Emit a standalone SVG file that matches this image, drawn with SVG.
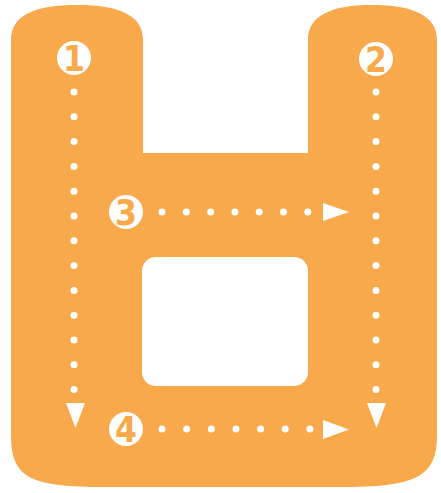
<svg xmlns="http://www.w3.org/2000/svg" width="441" height="493" viewBox="0 0 441 493">
  <style>
    .shape { fill: #F8A94C; }
    .hole { fill: #FFFFFF; }
    .badge circle { fill: #FFFFFF; }
    .badge text { fill: #F8A94C; font-family: "DejaVu Sans Condensed", "DejaVu Sans", sans-serif; font-weight: bold; font-size: 35px; text-anchor: middle; }
    .dots { stroke: #FFFFFF; stroke-width: 7; stroke-linecap: round; fill: none; }
    .head { fill: #FFFFFF; }
  </style>
  <rect width="441" height="493" fill="#FFFFFF"/>
  <g id="letter">
    <path class="shape" d="M11,40 C11,15 35,5 77,5 C119,5 143,15 143,40 L143,153 L308,153 L308,40 C308,15 332,5 372,5 C412,5 437,15 437,40 L437,435 C437,478 415,487 340,487 L105,487 C30,487 11,478 11,435 Z"/>
    <rect class="hole" x="142" y="257" width="166" height="129" rx="14" ry="14"/>
  </g>
  <g id="connectors">
    <line class="dots" x1="74" y1="92" x2="74" y2="391" stroke-dasharray="0 24.8"/>
    <polygon class="head" points="66,403 85,403 75.5,428"/>
    <line class="dots" x1="376" y1="92" x2="376" y2="391" stroke-dasharray="0 24.8"/>
    <polygon class="head" points="367,403 386,403 376.5,428"/>
    <line class="dots" x1="162" y1="212" x2="309" y2="212" stroke-dasharray="0 24.3"/>
    <polygon class="head" points="323,203 323,221 349,212"/>
    <line class="dots" x1="162" y1="429" x2="311" y2="429" stroke-dasharray="0 24.65"/>
    <polygon class="head" points="323,420 323,439 349,429.5"/>
  </g>
  <g id="step1" class="badge">
    <circle cx="74" cy="58" r="17"/>
    <text x="74" y="70.5">1</text>
  </g>
  <g id="step2" class="badge">
    <circle cx="376" cy="59" r="17"/>
    <text x="376" y="71.5">2</text>
  </g>
  <g id="step3" class="badge">
    <circle cx="126" cy="212" r="17"/>
    <text x="126" y="224.5">3</text>
  </g>
  <g id="step4" class="badge">
    <circle cx="126" cy="429" r="17"/>
    <text x="126" y="441.5">4</text>
  </g>
</svg>
